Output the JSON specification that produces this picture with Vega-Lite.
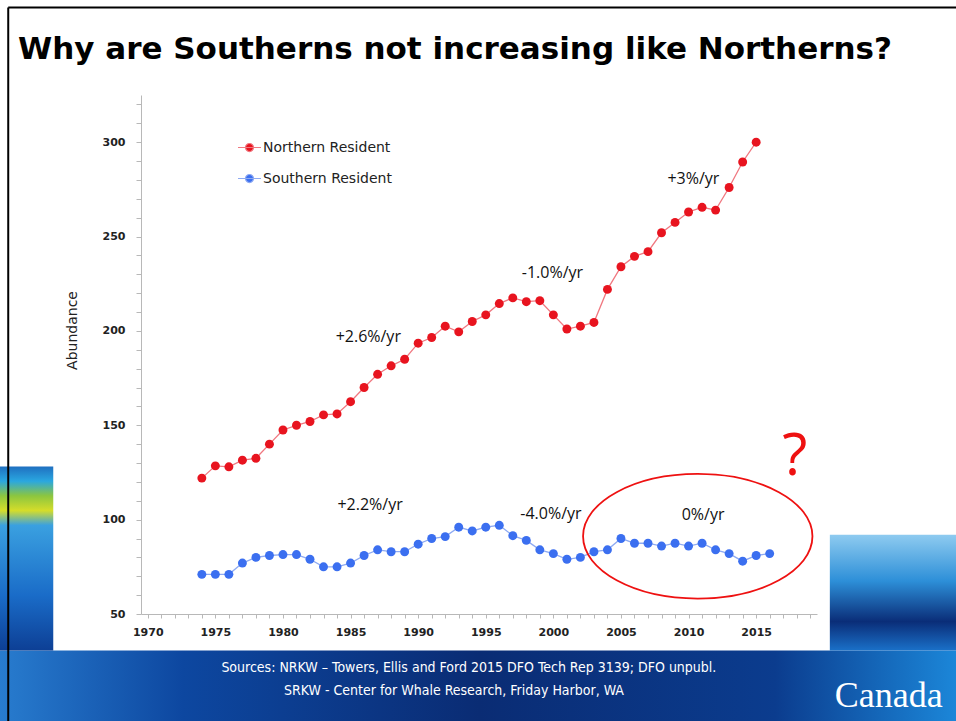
{
  "$schema": "https://vega.github.io/schema/vega-lite/v6.json",
  "width": 676,
  "height": 519,
  "autosize": {"type": "none"},
  "padding": {"left": 141, "top": 95, "right": 139, "bottom": 107},
  "background": "white",
  "title": {
    "text": "Why are Southerns not increasing like Northerns?",
    "anchor": "start",
    "frame": "group",
    "dx": -123,
    "offset": -84,
    "baseline": "alphabetic",
    "font": "DejaVu Sans",
    "fontSize": 31,
    "fontWeight": "bold",
    "color": "#000000"
  },
  "config": {
    "view": {"stroke": null},
    "axis": {"grid": false},
    "legend": {
      "title": null,
      "orient": "none",
      "legendX": 96,
      "legendY": 40,
      "padding": 0,
      "symbolType": "M-1,0L1,0M0.35,0A0.35,0.35,0,1,1,-0.35,0A0.35,0.35,0,1,1,0.35,0Z",
      "symbolSize": 529,
      "symbolStrokeWidth": 1.2,
      "labelFont": "DejaVu Sans",
      "labelFontSize": 14,
      "labelColor": "#222222",
      "labelOffset": 1,
      "rowPadding": 11
    }
  },
  "datasets": {
    "orcas": [
      {"year": 1974, "value": 122, "series": "Northern Resident"},
      {"year": 1975, "value": 128.5, "series": "Northern Resident"},
      {"year": 1976, "value": 128, "series": "Northern Resident"},
      {"year": 1977, "value": 131.5, "series": "Northern Resident"},
      {"year": 1978, "value": 132.5, "series": "Northern Resident"},
      {"year": 1979, "value": 140, "series": "Northern Resident"},
      {"year": 1980, "value": 147.5, "series": "Northern Resident"},
      {"year": 1981, "value": 150, "series": "Northern Resident"},
      {"year": 1982, "value": 152, "series": "Northern Resident"},
      {"year": 1983, "value": 155.5, "series": "Northern Resident"},
      {"year": 1984, "value": 156, "series": "Northern Resident"},
      {"year": 1985, "value": 162.5, "series": "Northern Resident"},
      {"year": 1986, "value": 170, "series": "Northern Resident"},
      {"year": 1987, "value": 177, "series": "Northern Resident"},
      {"year": 1988, "value": 181.5, "series": "Northern Resident"},
      {"year": 1989, "value": 185, "series": "Northern Resident"},
      {"year": 1990, "value": 193.5, "series": "Northern Resident"},
      {"year": 1991, "value": 196.5, "series": "Northern Resident"},
      {"year": 1992, "value": 202.5, "series": "Northern Resident"},
      {"year": 1993, "value": 199.5, "series": "Northern Resident"},
      {"year": 1994, "value": 205, "series": "Northern Resident"},
      {"year": 1995, "value": 208.5, "series": "Northern Resident"},
      {"year": 1996, "value": 214.5, "series": "Northern Resident"},
      {"year": 1997, "value": 217.5, "series": "Northern Resident"},
      {"year": 1998, "value": 215.5, "series": "Northern Resident"},
      {"year": 1999, "value": 216, "series": "Northern Resident"},
      {"year": 2000, "value": 208.5, "series": "Northern Resident"},
      {"year": 2001, "value": 201, "series": "Northern Resident"},
      {"year": 2002, "value": 202.5, "series": "Northern Resident"},
      {"year": 2003, "value": 204.5, "series": "Northern Resident"},
      {"year": 2004, "value": 222, "series": "Northern Resident"},
      {"year": 2005, "value": 234, "series": "Northern Resident"},
      {"year": 2006, "value": 239.5, "series": "Northern Resident"},
      {"year": 2007, "value": 242, "series": "Northern Resident"},
      {"year": 2008, "value": 252, "series": "Northern Resident"},
      {"year": 2009, "value": 257.5, "series": "Northern Resident"},
      {"year": 2010, "value": 263, "series": "Northern Resident"},
      {"year": 2011, "value": 265.5, "series": "Northern Resident"},
      {"year": 2012, "value": 264, "series": "Northern Resident"},
      {"year": 2013, "value": 276, "series": "Northern Resident"},
      {"year": 2014, "value": 289.5, "series": "Northern Resident"},
      {"year": 2015, "value": 300, "series": "Northern Resident"},
      {"year": 1974, "value": 71, "series": "Southern Resident"},
      {"year": 1975, "value": 71, "series": "Southern Resident"},
      {"year": 1976, "value": 71, "series": "Southern Resident"},
      {"year": 1977, "value": 77, "series": "Southern Resident"},
      {"year": 1978, "value": 80, "series": "Southern Resident"},
      {"year": 1979, "value": 81, "series": "Southern Resident"},
      {"year": 1980, "value": 81.5, "series": "Southern Resident"},
      {"year": 1981, "value": 81.5, "series": "Southern Resident"},
      {"year": 1982, "value": 79, "series": "Southern Resident"},
      {"year": 1983, "value": 75, "series": "Southern Resident"},
      {"year": 1984, "value": 75, "series": "Southern Resident"},
      {"year": 1985, "value": 77, "series": "Southern Resident"},
      {"year": 1986, "value": 81, "series": "Southern Resident"},
      {"year": 1987, "value": 84, "series": "Southern Resident"},
      {"year": 1988, "value": 83, "series": "Southern Resident"},
      {"year": 1989, "value": 83, "series": "Southern Resident"},
      {"year": 1990, "value": 87, "series": "Southern Resident"},
      {"year": 1991, "value": 90, "series": "Southern Resident"},
      {"year": 1992, "value": 91, "series": "Southern Resident"},
      {"year": 1993, "value": 96, "series": "Southern Resident"},
      {"year": 1994, "value": 94, "series": "Southern Resident"},
      {"year": 1995, "value": 96, "series": "Southern Resident"},
      {"year": 1996, "value": 97, "series": "Southern Resident"},
      {"year": 1997, "value": 91.5, "series": "Southern Resident"},
      {"year": 1998, "value": 89, "series": "Southern Resident"},
      {"year": 1999, "value": 84, "series": "Southern Resident"},
      {"year": 2000, "value": 82, "series": "Southern Resident"},
      {"year": 2001, "value": 79, "series": "Southern Resident"},
      {"year": 2002, "value": 80, "series": "Southern Resident"},
      {"year": 2003, "value": 83, "series": "Southern Resident"},
      {"year": 2004, "value": 84, "series": "Southern Resident"},
      {"year": 2005, "value": 90, "series": "Southern Resident"},
      {"year": 2006, "value": 87.5, "series": "Southern Resident"},
      {"year": 2007, "value": 87.5, "series": "Southern Resident"},
      {"year": 2008, "value": 86, "series": "Southern Resident"},
      {"year": 2009, "value": 87.5, "series": "Southern Resident"},
      {"year": 2010, "value": 86, "series": "Southern Resident"},
      {"year": 2011, "value": 87.5, "series": "Southern Resident"},
      {"year": 2012, "value": 84, "series": "Southern Resident"},
      {"year": 2013, "value": 82, "series": "Southern Resident"},
      {"year": 2014, "value": 78, "series": "Southern Resident"},
      {"year": 2015, "value": 81, "series": "Southern Resident"},
      {"year": 2016, "value": 82, "series": "Southern Resident"}
    ],
    "notes": [
      {"year": 2010.36, "value": 280.6, "label": "+3%/yr"},
      {"year": 1999.93, "value": 230.8, "label": "-1.0%/yr"},
      {"year": 1986.31, "value": 196.9, "label": "+2.6%/yr"},
      {"year": 1986.44, "value": 108.0, "label": "+2.2%/yr"},
      {"year": 1999.82, "value": 103.1, "label": "-4.0%/yr"},
      {"year": 2011.07, "value": 102.4, "label": "0%/yr"}
    ],
    "question": [{"year": 2017.85, "value": 132.4, "label": "?"}],
    "ring": [{"year": 2010.68, "value": 91.2}],
    "sources": [
      {"year": 1993.75, "value": 21.6, "label": "Sources: NRKW – Towers, Ellis and Ford 2015 DFO Tech Rep 3139; DFO unpubl."},
      {"year": 1992.65, "value": 9.4, "label": "SRKW -  Center for Whale Research, Friday Harbor, WA"}
    ],
    "brand": [{"year": 2024.8, "value": 0.5, "label": "Canada"}]
  },
  "layer": [
    {
      "data": {"values": [{}]},
      "mark": {"type": "rect", "clip": false, "color": {"gradient": "linear", "x1": 0, "y1": 0, "x2": 1, "y2": 0, "stops": [
        {"offset": 0, "color": "#2a80d2"},
        {"offset": 0.2, "color": "#0d47a0"},
        {"offset": 0.5, "color": "#0a2c74"},
        {"offset": 0.8, "color": "#0b3c8e"},
        {"offset": 1, "color": "#1d8ddf"}
      ]}},
      "encoding": {
        "x": {"datum": 1958, "type": "quantitative"},
        "x2": {"datum": 2031},
        "y": {"datum": 30.66, "type": "quantitative"},
        "y2": {"datum": -10}
      }
    },
    {
      "data": {"values": [{}]},
      "mark": {"type": "rect", "clip": false, "color": {"gradient": "linear", "x1": 0, "y1": 0, "x2": 0, "y2": 1, "stops": [
        {"offset": 0, "color": "#1f6fc0"},
        {"offset": 0.08, "color": "#2aa7e0"},
        {"offset": 0.16, "color": "#8cc63f"},
        {"offset": 0.24, "color": "#d5dd2a"},
        {"offset": 0.32, "color": "#3aa0e0"},
        {"offset": 0.7, "color": "#1a6cc8"},
        {"offset": 1, "color": "#0d3f95"}
      ]}},
      "encoding": {
        "x": {"datum": 1958, "type": "quantitative"},
        "x2": {"datum": 1963.01},
        "y": {"datum": 128.2, "type": "quantitative"},
        "y2": {"datum": 30.66}
      }
    },
    {
      "data": {"values": [{}]},
      "mark": {"type": "rect", "clip": false, "color": {"gradient": "linear", "x1": 0, "y1": 0, "x2": 0, "y2": 1, "stops": [
        {"offset": 0, "color": "#8ecbf0"},
        {"offset": 0.4, "color": "#2d8fd8"},
        {"offset": 0.75, "color": "#0a2d78"},
        {"offset": 1, "color": "#1a70c8"}
      ]}},
      "encoding": {
        "x": {"datum": 2020.45, "type": "quantitative"},
        "x2": {"datum": 2031},
        "y": {"datum": 92, "type": "quantitative"},
        "y2": {"datum": 30.66}
      }
    },
    {
      "data": {"values": [{}]},
      "mark": {"type": "rule", "clip": false, "color": "#000000", "strokeWidth": 2},
      "encoding": {
        "x": {"datum": 1959.68, "type": "quantitative"},
        "x2": {"datum": 2031},
        "y": {"datum": 371.4, "type": "quantitative"}
      }
    },
    {
      "data": {"values": [{}]},
      "mark": {"type": "rule", "clip": false, "color": "#000000", "strokeWidth": 2},
      "encoding": {
        "x": {"datum": 1959.68, "type": "quantitative"},
        "y": {"datum": 371.4, "type": "quantitative"},
        "y2": {"datum": -10}
      }
    },
    {
      "data": {"name": "orcas"},
      "mark": {"type": "line", "strokeWidth": 1.3},
      "encoding": {
        "x": {
          "field": "year",
          "type": "quantitative",
          "scale": {"domain": [1969.5, 2019.5], "nice": false, "zero": false},
          "axis": {
            "title": null,
            "values": [1970,1971,1972,1973,1974,1975,1976,1977,1978,1979,1980,1981,1982,1983,1984,1985,1986,1987,1988,1989,1990,1991,1992,1993,1994,1995,1996,1997,1998,1999,2000,2001,2002,2003,2004,2005,2006,2007,2008,2009,2010,2011,2012,2013,2014,2015,2016,2017,2018,2019],
            "tickCount": 1000,
            "format": "d",
            "labelExpr": "datum.value % 5 === 0 ? datum.label : ''",
            "domainColor": "#b8b8b8",
            "tickColor": "#b8b8b8",
            "tickSize": 4,
            "labelFont": "DejaVu Sans",
            "labelFontWeight": "bold",
            "labelFontSize": 11,
            "labelColor": "#222222",
            "labelPadding": 8,
            "labelOverlap": false,
            "labelFlush": false
          }
        },
        "y": {
          "field": "value",
          "type": "quantitative",
          "scale": {"domain": [50, 325], "nice": false, "zero": false},
          "axis": {
            "title": "Abundance",
            "values": [50,60,70,80,90,100,110,120,130,140,150,160,170,180,190,200,210,220,230,240,250,260,270,280,290,300,310,320],
            "tickCount": 1000,
            "format": "d",
            "labelExpr": "datum.value % 50 === 0 ? datum.label : ''",
            "domainColor": "#b8b8b8",
            "tickColor": "#b8b8b8",
            "tickSize": 5,
            "labelFont": "DejaVu Sans",
            "labelFontWeight": "bold",
            "labelFontSize": 11,
            "labelColor": "#222222",
            "labelPadding": 11,
            "labelOverlap": false,
            "labelFlush": false,
            "titleFont": "DejaVu Sans",
            "titleFontWeight": "normal",
            "titleFontSize": 14,
            "titleColor": "#222222",
            "titleX": -69,
            "titleY": 235,
            "titleAngle": 270,
            "titleAlign": "center",
            "titleBaseline": "middle"
          }
        },
        "stroke": {
          "field": "series",
          "type": "nominal",
          "scale": {"domain": ["Northern Resident", "Southern Resident"], "range": ["#f07880", "#8eaaf2"]}
        }
      }
    },
    {
      "data": {"name": "orcas"},
      "mark": {"type": "point", "filled": true, "size": 80, "opacity": 1},
      "encoding": {
        "x": {"field": "year", "type": "quantitative"},
        "y": {"field": "value", "type": "quantitative"},
        "fill": {
          "field": "series",
          "type": "nominal",
          "scale": {"domain": ["Northern Resident", "Southern Resident"], "range": ["#e8141f", "#3b6ff0"]}
        }
      }
    },
    {
      "data": {"name": "notes"},
      "mark": {"type": "text", "font": "Open Sans", "fontSize": 16, "color": "#111111", "align": "center", "baseline": "middle"},
      "encoding": {
        "x": {"field": "year", "type": "quantitative"},
        "y": {"field": "value", "type": "quantitative"},
        "text": {"field": "label"}
      }
    },
    {
      "data": {"name": "ring"},
      "mark": {"type": "point", "shape": "M-1,0A1,0.543,0,1,1,1,0A1,0.543,0,1,1,-1,0Z", "size": 52624, "filled": false, "stroke": "#ee1111", "strokeWidth": 1.8, "opacity": 1},
      "encoding": {
        "x": {"field": "year", "type": "quantitative"},
        "y": {"field": "value", "type": "quantitative"}
      }
    },
    {
      "data": {"name": "question"},
      "mark": {"type": "text", "font": "Open Sans", "fontSize": 58, "color": "#ee1111", "align": "center", "baseline": "middle"},
      "encoding": {
        "x": {"field": "year", "type": "quantitative"},
        "y": {"field": "value", "type": "quantitative"},
        "text": {"field": "label"}
      }
    },
    {
      "data": {"name": "sources"},
      "mark": {"type": "text", "clip": false, "font": "DejaVu Sans Condensed", "fontSize": 14, "color": "#ffffff", "align": "center", "baseline": "middle"},
      "encoding": {
        "x": {"field": "year", "type": "quantitative"},
        "y": {"field": "value", "type": "quantitative"},
        "text": {"field": "label"}
      }
    },
    {
      "data": {"name": "brand"},
      "mark": {"type": "text", "clip": false, "font": "Liberation Serif", "fontSize": 36, "color": "#ffffff", "align": "center", "baseline": "alphabetic"},
      "encoding": {
        "x": {"field": "year", "type": "quantitative"},
        "y": {"field": "value", "type": "quantitative"},
        "text": {"field": "label"}
      }
    }
  ]
}
